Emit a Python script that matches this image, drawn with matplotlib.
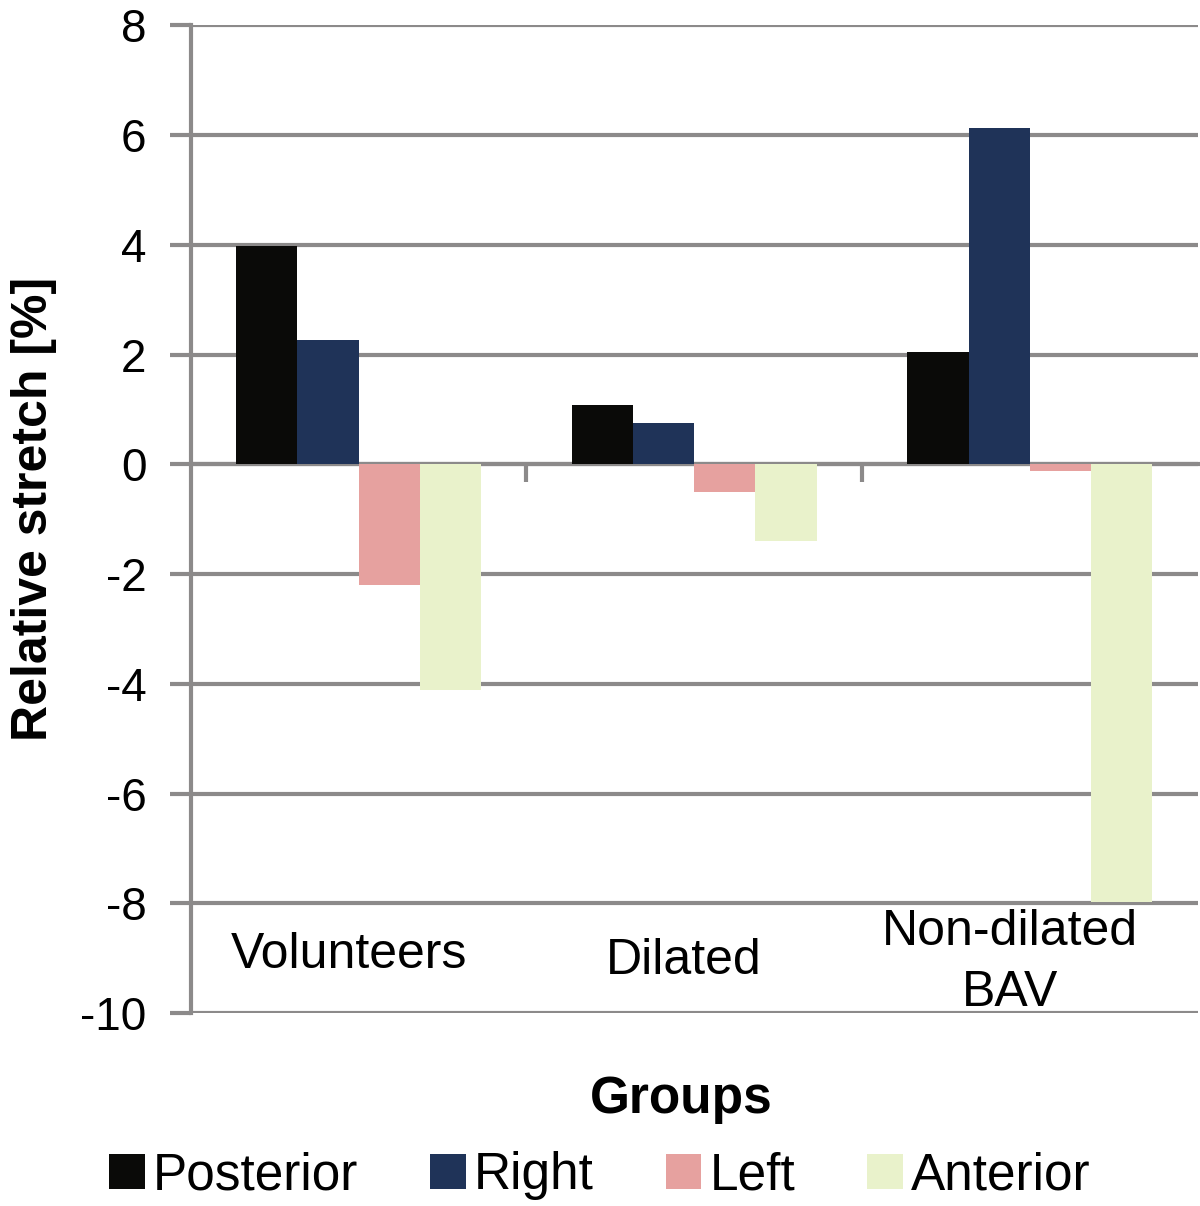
import matplotlib.pyplot as plt
import numpy as np

groups = ['Volunteers', 'Dilated', 'Non-dilated\nBAV']
series = ['Posterior', 'Right', 'Left', 'Anterior']
posterior = [3.97, 1.08, 2.04]
right = [2.26, 0.75, 6.13]
left = [-2.20, -0.51, -0.12]
anterior = [-4.12, -1.40, -7.97]
colors = ['#0a0a08', '#1f3358', '#e6a19f', '#e9f2cb']

plt.rcParams['font.family'] = ['Liberation Sans', 'DejaVu Sans']

fig = plt.figure(figsize=(12, 12.06), dpi=100)
ax = fig.add_axes([0.159, 0.16, 0.839, 0.819])

grey = '#8c8a8a'
x = np.arange(len(groups))
w = 0.1825
vals = [posterior, right, left, anterior]
for i, (name, v) in enumerate(zip(series, vals)):
    ax.bar(x - 1.5 * w + i * w, v, w, color=colors[i], label=name, zorder=3)

ax.set_xlim(-0.5, 2.5)
ax.set_ylim(-10, 8)
ax.set_yticks(np.arange(-10, 9, 2))
ax.set_yticklabels([str(t) for t in range(-10, 9, 2)])
ax.yaxis.grid(True, color=grey, linewidth=3, zorder=0)
ax.set_axisbelow(True)

ax.spines['top'].set_visible(False)
ax.spines['right'].set_visible(False)
ax.spines['left'].set_color(grey)
ax.spines['left'].set_linewidth(3)
ax.spines['bottom'].set_position(('data', 0))
ax.spines['bottom'].set_color(grey)
ax.spines['bottom'].set_linewidth(3)

ax.set_xticks([0.5, 1.5])
ax.set_xticklabels([])
ax.tick_params(axis='x', direction='out', length=13, width=3, color=grey)
ax.tick_params(axis='y', direction='out', length=15, width=3, color=grey,
               labelsize=33, pad=17)

label_x = [-0.03, -0.03, -0.06]
label_y = [-8.95, -9.05, -9.08]
for xi, dx, ly, g in zip(x, label_x, label_y, groups):
    ax.text(xi + dx, ly, g, ha='center', va='center', fontsize=36,
            linespacing=1.4)

ax.set_ylabel('Relative stretch [%]', fontsize=36, fontweight='bold')
ax.yaxis.set_label_coords(-0.133, 0.51)
fig.text(0.568, 0.088, 'Groups', ha='center', va='center', fontsize=37,
         fontweight='bold')

fig.legend(loc='center', bbox_to_anchor=(0.5, 0.025), ncol=4, frameon=False,
           fontsize=37, handlelength=0.69, handleheight=0.69, handletextpad=0.16,
           columnspacing=1.4)

fig.savefig('out.png', dpi=100)
